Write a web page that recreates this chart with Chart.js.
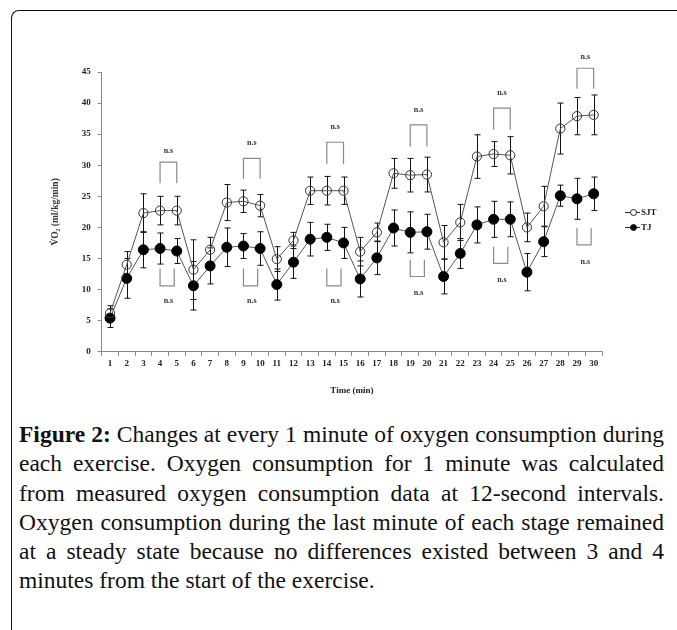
<!DOCTYPE html>
<html>
<head>
<meta charset="utf-8">
<script src="https://cdn.jsdelivr.net/npm/chart.js@4/dist/chart.umd.min.js"></script>
<style>
  html, body { margin: 0; padding: 0; background: #fff; }
  body { width: 677px; height: 630px; position: relative; overflow: hidden; }
  #frame { position: absolute; left: 11px; top: 10px; width: 700px; height: 700px;
    border-top: 1.5px solid #111; border-left: 1.5px solid #111; border-top-left-radius: 8px; box-sizing: border-box; }
  #wrap { position: absolute; left: 0; top: 0; width: 677px; height: 400px; }
  #caption { position: absolute; left: 19px; top: 420px; width: 645px;
    font-family: "Liberation Serif", "Times New Roman", serif; font-size: 23.5px; line-height: 29.3px; color: #111; }
  #caption .ln { text-align: justify; text-align-last: justify; white-space: nowrap; }
  #caption .ln.last { text-align-last: left; }
  #caption b { font-weight: bold; }
</style>
</head>
<body>
<div id="frame"></div>
<div id="wrap"><canvas id="c" width="677" height="400"></canvas></div>
<div id="caption">
  <div class="ln"><b>Figure 2:</b> Changes at every 1 minute of oxygen consumption during</div>
  <div class="ln">each exercise. Oxygen consumption for 1 minute was calculated</div>
  <div class="ln">from measured oxygen consumption data at 12-second intervals.</div>
  <div class="ln">Oxygen consumption during the last minute of each stage remained</div>
  <div class="ln">at a steady state because no differences existed between 3 and 4</div>
  <div class="ln last">minutes from the start of the exercise.</div>
</div>
<script>
const minutes = ['1','2','3','4','5','6','7','8','9','10','11','12','13','14','15','16','17','18','19','20','21','22','23','24','25','26','27','28','29','30'];
const yTicks = [0,5,10,15,20,25,30,35,40,45];
const sjtMean = [6.2,14.0,22.3,22.7,22.7,13.2,16.4,24.0,24.2,23.5,14.9,17.9,25.9,25.9,25.9,16.1,19.2,28.7,28.4,28.5,17.6,20.8,31.4,31.8,31.6,20.0,23.4,35.9,37.9,38.1];
const sjtSD   = [1.2,2.1,3.1,2.3,2.3,4.8,2.0,2.9,1.8,1.8,2.0,1.3,2.2,2.3,2.2,2.3,1.5,2.4,2.7,2.8,2.7,2.9,3.5,2.0,3.0,2.3,3.2,4.1,3.0,3.2];
const tjMean  = [5.4,11.8,16.4,16.6,16.2,10.6,13.8,16.8,17.0,16.6,10.8,14.4,18.1,18.4,17.5,11.7,15.1,19.9,19.2,19.3,12.1,15.8,20.4,21.3,21.3,12.8,17.7,25.1,24.6,25.4];
const tjSD    = [1.5,3.2,2.9,2.5,2.0,3.9,2.9,3.1,2.0,2.7,2.5,2.6,2.7,2.1,2.5,2.9,2.7,2.9,3.3,2.8,2.8,2.4,2.9,2.9,2.8,3.0,2.4,1.7,3.3,2.7];
// "n.s" comparisons (minute pairs) and the value levels of their brackets
const nsPairs     = [[4,5],[9,10],[14,15],[19,20],[24,25],[29,30]];
const upperTop    = [30.5,31.1,33.7,36.5,39.2,45.6];
const upperLeg    = [27.1,27.8,30.2,33.0,35.7,42.3];
const upperLabel  = [32.3,33.6,36.1,38.9,41.6,47.4];
const lowerTop    = [13.4,13.4,13.4,14.8,16.9,19.9];
const lowerBottom = [10.6,10.6,10.6,12.1,14.2,17.2];
const lowerLabel  = [8.1,8.1,8.1,9.5,11.5,14.5];
const seriesNames = ['SJT','TJ'];

const SERIF = '"Liberation Serif", "Times New Roman", serif';

const errorBars = {
  id: 'errorBars',
  beforeDatasetsDraw(chart) {
    const {ctx, scales:{x, y}} = chart;
    const sets = [[sjtMean, sjtSD], [tjMean, tjSD]];
    ctx.save();
    ctx.strokeStyle = '#111';
    ctx.lineWidth = 1;
    sets.forEach(([m, s]) => {
      m.forEach((v, i) => {
        const px = Math.round(x.getPixelForValue(i)) + 0.5;
        const top = y.getPixelForValue(v + s[i]);
        const bot = y.getPixelForValue(v - s[i]);
        ctx.beginPath();
        ctx.moveTo(px, top); ctx.lineTo(px, bot);
        ctx.moveTo(px - 3, top); ctx.lineTo(px + 3, top);
        ctx.moveTo(px - 3, bot); ctx.lineTo(px + 3, bot);
        ctx.stroke();
      });
    });
    ctx.restore();
  }
};

const brackets = {
  id: 'brackets',
  afterDatasetsDraw(chart) {
    const {ctx, scales:{x, y}} = chart;
    ctx.save();
    ctx.strokeStyle = '#8a8a8a';
    ctx.lineWidth = 1.2;
    ctx.fillStyle = '#333';
    ctx.font = 'bold 8px ' + SERIF;
    ctx.textAlign = 'center';
    ctx.textBaseline = 'middle';
    nsPairs.forEach(([a, b], k) => {
      const xa = x.getPixelForValue(a - 1);
      const xb = x.getPixelForValue(b - 1);
      const yt = y.getPixelForValue(upperTop[k]);
      const yl = y.getPixelForValue(upperLeg[k]);
      ctx.beginPath();
      ctx.moveTo(xa, yl); ctx.lineTo(xa, yt); ctx.lineTo(xb, yt); ctx.lineTo(xb, yl);
      ctx.stroke();
      ctx.fillText('n.s', (xa + xb) / 2, y.getPixelForValue(upperLabel[k]));
      const xb2 = xa + (xb - xa) * 0.85;
      const lt = y.getPixelForValue(lowerTop[k]);
      const lb = y.getPixelForValue(lowerBottom[k]);
      ctx.beginPath();
      ctx.moveTo(xa, lt); ctx.lineTo(xa, lb); ctx.lineTo(xb2, lb); ctx.lineTo(xb2, lt);
      ctx.stroke();
      ctx.fillText('n.s', (xa + xb) / 2, y.getPixelForValue(lowerLabel[k]));
    });
    ctx.restore();
  }
};

const sideLegend = {
  id: 'sideLegend',
  afterDraw(chart) {
    const {ctx} = chart;
    const x0 = 625, x1 = 640;
    const rows = [212, 227];
    ctx.save();
    ctx.lineWidth = 1;
    ctx.font = 'bold 9px ' + SERIF;
    ctx.textBaseline = 'middle';
    ctx.textAlign = 'left';
    seriesNames.forEach((name, i) => {
      const yy = rows[i] + 0.5;
      ctx.strokeStyle = '#222';
      ctx.beginPath(); ctx.moveTo(x0, yy); ctx.lineTo(x1, yy); ctx.stroke();
      ctx.beginPath(); ctx.arc((x0 + x1) / 2 + 1, yy, 3, 0, Math.PI * 2);
      ctx.fillStyle = i === 0 ? '#fff' : '#000';
      ctx.fill(); ctx.stroke();
      ctx.fillStyle = '#222';
      ctx.fillText(name, x1 + 1, yy);
    });
    ctx.restore();
  }
};

new Chart(document.getElementById('c'), {
  type: 'line',
  data: {
    labels: minutes,
    datasets: [
      { label: seriesNames[0], data: sjtMean, borderColor: '#555', borderWidth: 1,
        pointRadius: 4.6, pointBorderColor: '#333', pointBorderWidth: 1,
        pointBackgroundColor: 'rgba(255,255,255,0)', tension: 0 },
      { label: seriesNames[1], data: tjMean, borderColor: '#555', borderWidth: 1,
        pointRadius: 5, pointBorderColor: '#000', pointBorderWidth: 1,
        pointBackgroundColor: '#000', tension: 0 }
    ]
  },
  options: {
    responsive: false,
    animation: false,
    devicePixelRatio: 1,
    layout: { padding: { left: 0, right: 75, top: 72, bottom: 0 } },
    plugins: { legend: { display: false }, tooltip: { enabled: false } },
    scales: {
      x: {
        type: 'category',
        offset: true,
        grid: { display: true, drawOnChartArea: false, drawTicks: true, tickLength: 4, color: '#888', offset: true },
        border: { display: true, color: '#888', width: 1 },
        ticks: { color: '#222', font: { family: SERIF, size: 9, weight: 'bold' }, padding: 3, maxRotation: 0, autoSkip: false },
        title: { display: true, text: 'Time (min)', color: '#222', font: { family: SERIF, size: 9, weight: 'bold' }, padding: { top: 0, bottom: 4 } },
        afterFit(s) { s.height = 48.3; }
      },
      y: {
        min: 0, max: 45,
        afterBuildTicks(s) { s.ticks = yTicks.map(v => ({ value: v })); },
        grid: { display: true, drawOnChartArea: false, drawTicks: true, tickLength: 4, color: '#888' },
        border: { display: true, color: '#888', width: 1 },
        ticks: { color: '#222', font: { family: SERIF, size: 9, weight: 'bold' }, padding: 7 },
        title: { display: true, text: 'V\u0307O\u2082 (ml/kg/min)', color: '#334', font: { family: SERIF, size: 9.5, weight: 'bold' }, padding: { top: 50, bottom: 4 } },
        afterFit(s) { s.width = 101.7; }
      }
    }
  },
  plugins: [errorBars, brackets, sideLegend]
});
</script>
</body>
</html>
